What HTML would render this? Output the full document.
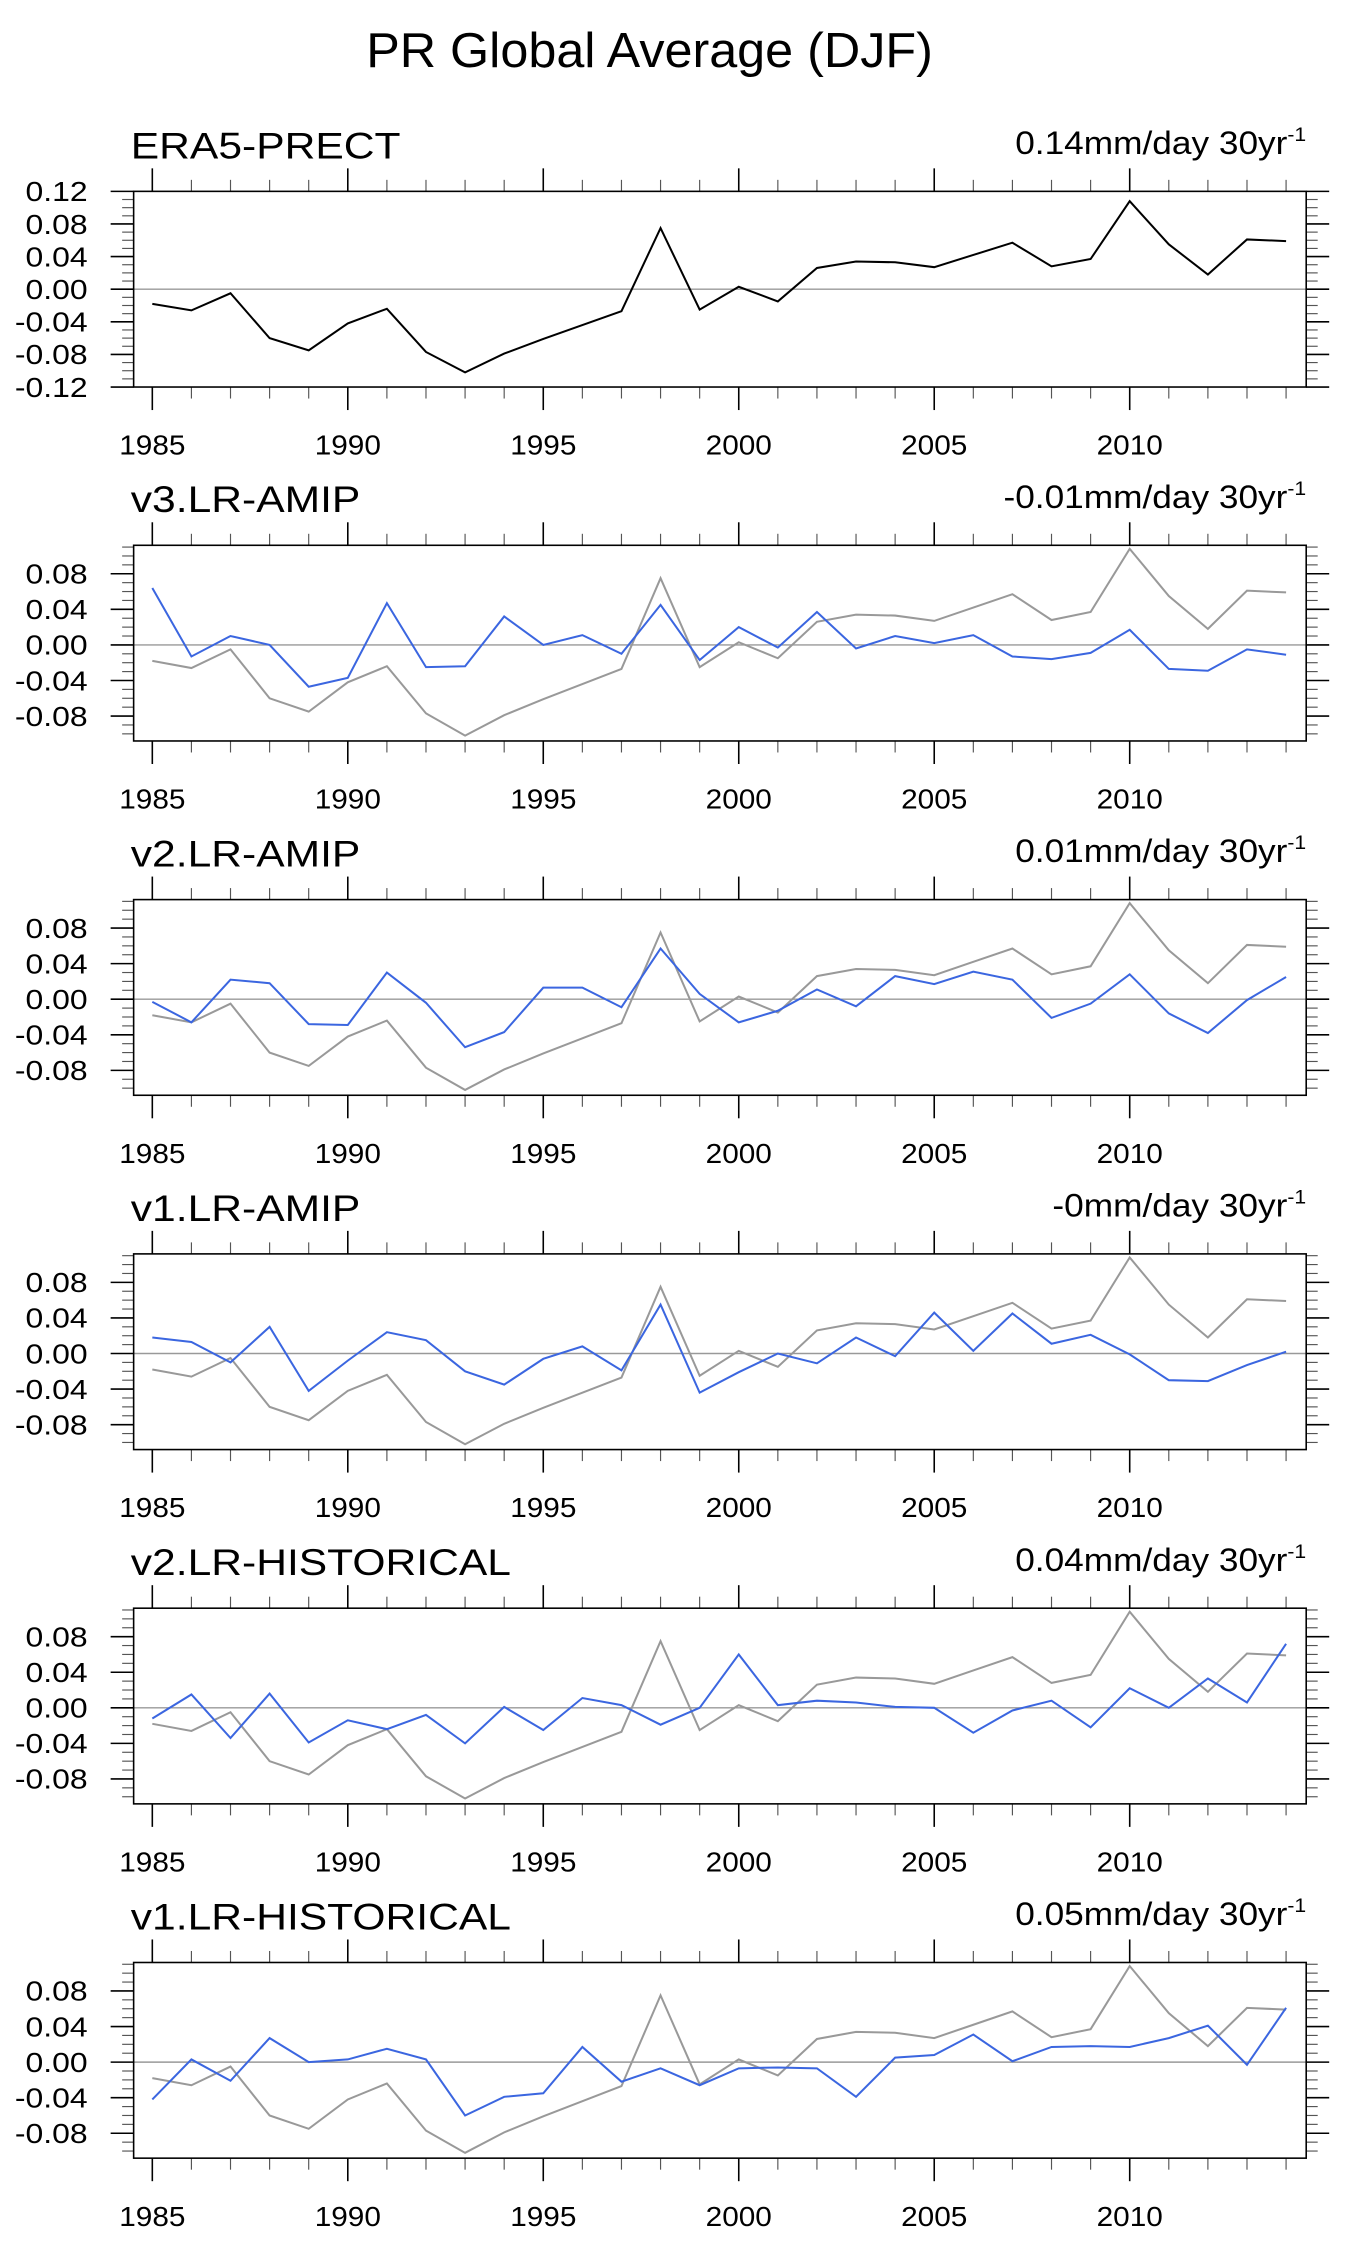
<!DOCTYPE html>
<html><head><meta charset="utf-8"><style>
html,body{margin:0;padding:0;background:#fff}
svg{display:block}
text{font-family:"Liberation Sans",sans-serif;fill:#000}
</style></head><body>
<svg id="chart" width="1345" height="2256" viewBox="0 0 936 1568" preserveAspectRatio="none" xmlns="http://www.w3.org/2000/svg">
<text transform="translate(452,46.5) scale(1.03,1)" font-size="34" text-anchor="middle">PR Global Average (DJF)</text>
</svg>
<script>
const years = [1985,1986,1987,1988,1989,1990,1991,1992,1993,1994,1995,1996,1997,1998,1999,2000,2001,2002,2003,2004,2005,2006,2007,2008,2009,2010,2011,2012,2013,2014];
const era5 = [-0.018,-0.026,-0.005,-0.060,-0.075,-0.042,-0.024,-0.077,-0.102,-0.079,-0.061,-0.044,-0.027,0.075,-0.025,0.003,-0.015,0.026,0.034,0.033,0.027,0.042,0.057,0.028,0.037,0.108,0.055,0.018,0.061,0.059];
const v3amip = [0.064,-0.013,0.010,0.000,-0.047,-0.037,0.047,-0.025,-0.024,0.032,0.000,0.011,-0.010,0.045,-0.017,0.020,-0.003,0.037,-0.004,0.010,0.002,0.011,-0.013,-0.016,-0.009,0.017,-0.027,-0.029,-0.005,-0.011];
const v2amip = [-0.003,-0.026,0.022,0.018,-0.028,-0.029,0.030,-0.004,-0.054,-0.037,0.013,0.013,-0.009,0.057,0.006,-0.026,-0.013,0.011,-0.008,0.026,0.017,0.031,0.022,-0.021,-0.005,0.028,-0.016,-0.038,-0.001,0.025];
const v1amip = [0.018,0.013,-0.010,0.030,-0.042,-0.008,0.024,0.015,-0.020,-0.035,-0.006,0.008,-0.019,0.055,-0.044,-0.021,0.000,-0.011,0.018,-0.003,0.046,0.003,0.045,0.011,0.021,-0.001,-0.030,-0.031,-0.013,0.002];
const v2hist = [-0.012,0.015,-0.034,0.016,-0.039,-0.014,-0.024,-0.008,-0.040,0.001,-0.025,0.011,0.003,-0.019,0.000,0.060,0.003,0.008,0.006,0.001,0.000,-0.028,-0.003,0.008,-0.022,0.022,0.000,0.033,0.006,0.072];
const v1hist = [-0.042,0.003,-0.021,0.027,0.000,0.003,0.015,0.003,-0.060,-0.039,-0.035,0.017,-0.022,-0.007,-0.026,-0.007,-0.006,-0.007,-0.039,0.005,0.008,0.031,0.001,0.017,0.018,0.017,0.027,0.041,-0.003,0.061];
const panelTitles = ["ERA5-PRECT","v3.LR-AMIP","v2.LR-AMIP","v1.LR-AMIP","v2.LR-HISTORICAL","v1.LR-HISTORICAL"];
const trendLabels = ["0.14","-0.01","0.01","-0","0.04","0.05"];
const yTicksP1 = [0.12,0.08,0.04,0,-0.04,-0.08,-0.12];
const yTicksOther = [0.08,0.04,0,-0.04,-0.08];
const xTickLabels = [1985,1990,1995,2000,2005,2010];

const NS="http://www.w3.org/2000/svg";
const svg=document.getElementById('chart');
function mk(tag,attrs,parent){const e=document.createElementNS(NS,tag);for(const k in attrs)e.setAttribute(k,attrs[k]);(parent||svg).appendChild(e);return e;}
function tr(x,y,sx){return 'translate('+x+','+y+') scale('+sx+',1)';}
const X0=93,X1=909;
function xs(yr){return 106+(yr-1985)*(895-106)/29;}
const models=[null,v3amip,v2amip,v1amip,v2hist,v1hist];
for(let p=0;p<6;p++){
  const top = p===0?133:379+(p-1)*246.25;
  const bot = top+136;
  const ymin = p===0?-0.12:-0.108, ymax = p===0?0.12:0.112;
  const ys=v=>top+(ymax-v)/(ymax-ymin)*(bot-top);
  const g=mk('g',{});
  
  
  const t=mk('text',{transform:tr(91,top-23,1.14),'font-size':26},g);t.textContent=panelTitles[p];
  
  
  const r=mk('text',{transform:tr(909,top-26,1.09),'font-size':22.5,'text-anchor':'end'},g);
  r.textContent=trendLabels[p]+'mm/day 30yr';
  const sup=mk('tspan',{'font-size':13.5,dy:-9},r);sup.textContent='-1';
  
  
  const zl=mk('line',{x1:X0,x2:X1,y1:ys(0),y2:ys(0),stroke:'#999','stroke-width':1},g);
  
  
  for(let k=-12;k<=12;k++){const v=k/100;if(v<ymin-1e-9||v>ymax+1e-9)continue;
    const major=(k%4===0);const L=major?16:8;const y=ys(v);
    mk('line',{x1:X0-L,x2:X0,y1:y,y2:y,stroke:major?'#000':'#555','stroke-width':major?1.1:0.8},g);
    mk('line',{x1:X1,x2:X1+L,y1:y,y2:y,stroke:major?'#000':'#555','stroke-width':major?1.1:0.8},g);}
  const yt=p===0?yTicksP1:yTicksOther;
  yt.forEach(v=>{const l=mk('text',{transform:tr(61,ys(v)+6.8,1.17),'font-size':19,'text-anchor':'end'},g);l.textContent=v.toFixed(2);
    
    });
  years.forEach(yr=>{const major=(yr%5===0);const L=major?16:8;const x=xs(yr);
    mk('line',{x1:x,x2:x,y1:top-L,y2:top,stroke:major?'#000':'#555','stroke-width':major?1.1:0.8},g);
    mk('line',{x1:x,x2:x,y1:bot,y2:bot+L,stroke:major?'#000':'#555','stroke-width':major?1.1:0.8},g);});
  xTickLabels.forEach(yr=>{const l=mk('text',{transform:tr(xs(yr),bot+47,1.09),'font-size':19,'text-anchor':'middle'},g);l.textContent=yr;
    
    });
  const ptsE=years.map((yr,i)=>xs(yr).toFixed(2)+','+ys(era5[i]).toFixed(2)).join(' ');
  const le=mk('polyline',{points:ptsE,fill:'none',stroke:p===0?'#000':'#999','stroke-width':1.4},g);
  
  
  if(models[p]){const d=models[p];
    const pts=years.map((yr,i)=>xs(yr).toFixed(2)+','+ys(d[i]).toFixed(2)).join(' ');
    const lm=mk('polyline',{points:pts,fill:'none',stroke:'#3b66e0','stroke-width':1.4},g);
    
    }
  const box=mk('rect',{x:X0,y:top,width:X1-X0,height:bot-top,fill:'none',stroke:'#000','stroke-width':1.1},g);
  
  
}
</script>
</body></html>
